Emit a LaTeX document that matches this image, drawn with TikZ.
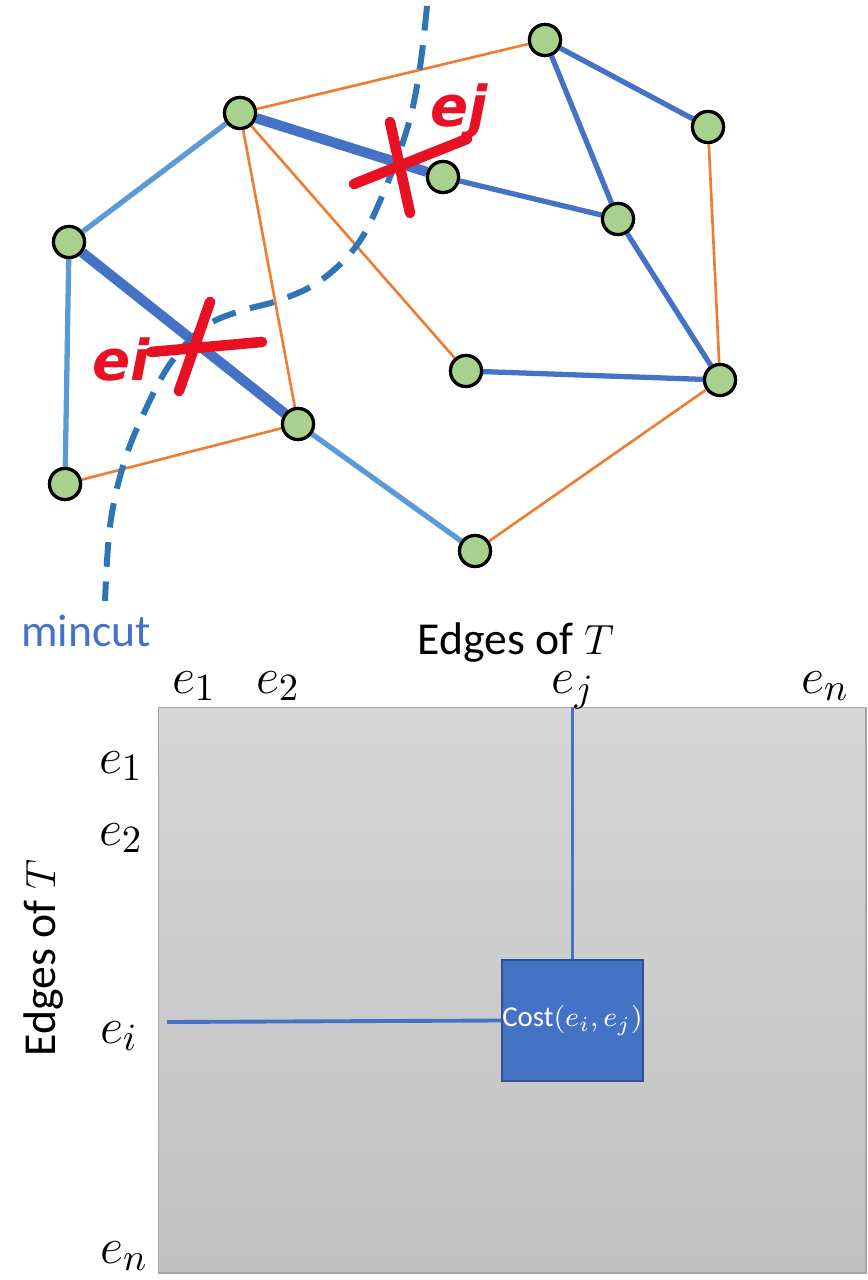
\documentclass[tikz,border=0pt]{standalone}
\usepackage{fontspec}
\setmainfont{Carlito}
\newfontfamily\handfont{DejaVu Sans}
\definecolor{tree-blue}{HTML}{4472C4}
\definecolor{light-blue}{HTML}{5B9BD5}
\definecolor{cut-blue}{HTML}{2E75B6}
\definecolor{edge-orange}{HTML}{ED7D31}
\definecolor{node-green}{HTML}{A9D18E}
\definecolor{mark-red}{HTML}{E81123}
\definecolor{box-border}{HTML}{2F528F}
\definecolor{grid-top}{HTML}{D6D6D6}
\definecolor{grid-bottom}{HTML}{C1C1C1}
\definecolor{grid-border}{HTML}{A6A6A6}

\begin{document}
\begin{tikzpicture}[x=0.01cm, y=-0.01cm,
    vertex/.style={circle, draw=black, line width=0.9pt, fill=node-green,
                   minimum size=0.31cm, inner sep=0pt},
    treeedge/.style={tree-blue, line width=1.5pt},
    cutedge/.style={tree-blue, line width=2.9pt},
    lightedge/.style={light-blue, line width=1.5pt},
    otheredge/.style={edge-orange, line width=0.75pt},
    crossmark/.style={mark-red, line width=3pt, line cap=round},
    handlabel/.style={text=mark-red, inner sep=0pt, anchor=base,
                      font=\handfont\bfseries\itshape\fontsize{16}{16}\selectfont},
    axislabel/.style={anchor=base, inner sep=0pt, font=\fontsize{15}{15}\selectfont},
    titlelabel/.style={anchor=base, inner sep=0pt, font=\fontsize{13}{13}\selectfont}]
  \useasboundingbox (0,0) rectangle (867,1280);

  % Graph: vertices at pixel positions (x, y down)
  \node[vertex] (va) at (240,113) {};
  \node[vertex] (vb) at (545,40) {};
  \node[vertex] (vc) at (708,127) {};
  \node[vertex] (vd) at (443,177) {};
  \node[vertex] (ve) at (618,219) {};
  \node[vertex] (vf) at (69,242) {};
  \node[vertex] (vg) at (466,371) {};
  \node[vertex] (vh) at (720,380) {};
  \node[vertex] (vi) at (298,424) {};
  \node[vertex] (vj) at (65,484) {};
  \node[vertex] (vk) at (475,551) {};

  \draw[otheredge] (va) -- (vb);
  \draw[otheredge] (va) -- (vi);
  \draw[otheredge] (va) -- (vg);
  \draw[otheredge] (vc) -- (vh);
  \draw[otheredge] (vh) -- (vk);
  \draw[otheredge] (vj) -- (vi);
  \draw[lightedge] (va) -- (vf);
  \draw[lightedge] (vf) -- (vj);
  \draw[lightedge] (vi) -- (vk);
  \draw[treeedge] (vd) -- (ve);
  \draw[treeedge] (vb) -- (ve);
  \draw[treeedge] (vb) -- (vc);
  \draw[treeedge] (ve) -- (vh);
  \draw[treeedge] (vg) -- (vh);
  \draw[cutedge] (va) -- (vd);
  \draw[cutedge] (vf) -- (vi);

  % redraw vertices above the edges
  \foreach \v in {va,vb,vc,vd,ve,vf,vg,vh,vi,vj,vk}
    \node[vertex] at (\v) {};

  % the mincut
  \draw[cut-blue, line width=1.7pt, dash pattern=on 7pt off 4.2pt]
    plot[smooth, tension=0.6] coordinates {(427,6) (420,67) (408,126) (383,194)
      (357,245) (320,281) (280,300) (237,312) (203,328) (170,364) (143,415)
      (123,466) (110,526) (105,601)};
  \node[titlelabel, text=tree-blue] (cutlabel) at (86,647) {mincut};

  % crossed edges
  \draw[crossmark] (390,122) -- (410,213);
  \draw[crossmark] (354,184) -- (467,139);
  \node[handlabel] (ejmark) at (459,127) {ej};
  \draw[crossmark] (210,302) -- (179,391);
  \draw[crossmark] (151,352) -- (262,342);
  \node[handlabel] (eimark) at (121,381) {ei};

  % Cost matrix
  \node[draw=grid-border, top color=grid-top, bottom color=grid-bottom,
        minimum width=7.07cm, minimum height=5.65cm, inner sep=0pt,
        anchor=north west] (grid) at (158,707) {};
  \node[titlelabel] (toptitle) at (516,655) {Edges of $T$};
  \node[titlelabel, rotate=90] (sidetitle) at (55,958) {Edges of $T$};

  \node[axislabel] (col1) at (194,693) {$e_1$};
  \node[axislabel] (col2) at (278,693) {$e_2$};
  \node[axislabel] (colj) at (573,694) {$e_j$};
  \node[axislabel] (coln) at (825,693) {$e_n$};
  \node[axislabel] (row1) at (121,773) {$e_1$};
  \node[axislabel] (row2) at (121,845) {$e_2$};
  \node[axislabel] (rowi) at (119,1043) {$e_i$};
  \node[axislabel] (rown) at (124,1263) {$e_n$};

  \node[draw=box-border, line width=0.6pt, fill=tree-blue, text=white,
        minimum width=1.37cm, minimum height=1.21cm, inner sep=0pt,
        font=\fontsize{8.2}{9}\selectfont] (cost) at (572.5,1020.5)
        {Cost$(e_i,e_j)$};
  \coordinate (jtop) at (cost.north |- grid.north);
  \coordinate (ileft) at (167,1022);
  \draw[tree-blue, line width=1.1pt] (jtop) -- (cost.north);
  \draw[tree-blue, line width=1.1pt] (ileft) -- (cost.west);
\end{tikzpicture}
\end{document}
